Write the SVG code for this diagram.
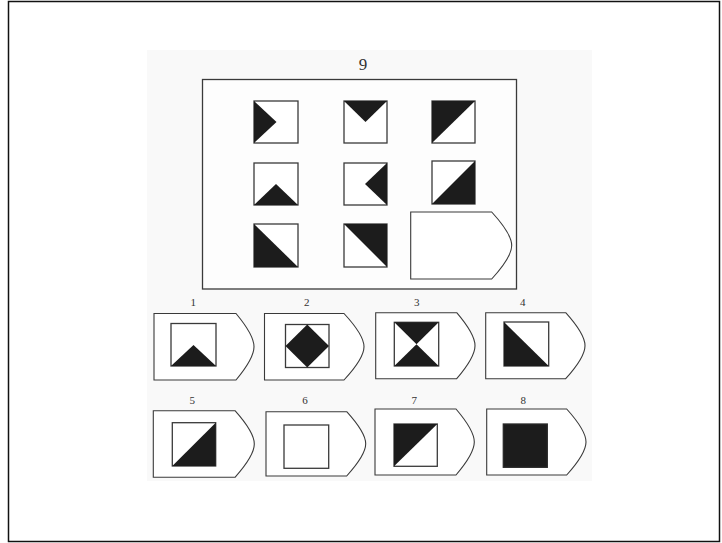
<svg xmlns="http://www.w3.org/2000/svg" width="722" height="543" viewBox="0 0 722 543">
<style>
.pent{fill:#fff;stroke:#3a3a3a;stroke-width:1.1}
.sq{fill:#fff;stroke:#3a3a3a;stroke-width:1.3}
.blk{fill:#1c1c1c;stroke:none}
.sqb{fill:#1c1c1c;stroke:#2a2a2a;stroke-width:1.3}
.lbl{font-family:"Liberation Serif","DejaVu Serif",serif;fill:#333;text-anchor:middle}
</style>
<rect x="0" y="0" width="722" height="543" fill="#fff"/>
<rect x="8.5" y="1.5" width="711" height="540" fill="#fff" stroke="#111" stroke-width="1.5"/>
<rect x="147" y="50" width="445" height="431" fill="#f9f9f9"/>
<text class="lbl" x="363" y="70" font-size="17">9</text>
<g id="matrix">
<rect x="202.5" y="79.5" width="314" height="209.5" fill="#fdfdfd" stroke="#3a3a3a" stroke-width="1.3"/>
<g id="m11"><rect class="sq" x="254" y="101" width="44" height="42"/><polygon class="blk" points="254,101 276.5,122 254,143"/></g>
<g id="m12"><rect class="sq" x="344" y="101" width="43" height="42"/><polygon class="blk" points="344,101 387,101 365.5,122"/></g>
<g id="m13"><rect class="sq" x="432" y="101" width="43" height="42"/><polygon class="blk" points="432,101 475,101 432,143"/></g>
<g id="m21"><rect class="sq" x="254" y="163" width="44" height="42"/><polygon class="blk" points="254,205 298,205 276,184"/></g>
<g id="m22"><rect class="sq" x="344" y="163" width="43" height="42"/><polygon class="blk" points="387,163 387,205 365,184"/></g>
<g id="m23"><rect class="sq" x="432" y="161" width="43" height="43"/><polygon class="blk" points="475,161 475,204 432,204"/></g>
<g id="m31"><rect class="sq" x="254" y="224" width="44" height="43"/><polygon class="blk" points="254,224 298,267 254,267"/></g>
<g id="m32"><rect class="sq" x="344" y="224" width="43" height="43"/><polygon class="blk" points="344,224 387,224 387,267"/></g>
<g id="m33"><path class="pent" d="M410.7,212 H491.7 Q511.7,233.8 511.7,245.5 Q511.7,257.2 491.7,279 H410.7 Z"/></g>
</g>
<g id="opt1"><text class="lbl" x="193.3" y="306" font-size="11">1</text>
<path class="pent" d="M154,313.5 H236 Q254,335.1 254,346.75 Q254,358.4 236,380 H154 Z"/>
<rect class="sq" x="171" y="323.5" width="45" height="42.5"/><polygon class="blk" points="171,366 216,366 193.5,345"/></g>
<g id="opt2"><text class="lbl" x="306.7" y="306" font-size="11">2</text>
<path class="pent" d="M264.5,313.5 H344 Q364,335.1 364,346.75 Q364,358.4 344,380 H264.5 Z"/>
<rect class="sq" x="285.5" y="324.5" width="43.5" height="43"/><polygon class="blk" points="307.25,324.5 329,346 307.25,367.5 285.5,346"/></g>
<g id="opt3"><text class="lbl" x="416.7" y="306" font-size="11">3</text>
<path class="pent" d="M375.7,312.7 H456.7 Q475,334.15 475,345.7 Q475,357.25 456.7,378.7 H375.7 Z"/>
<rect class="sq" x="394.3" y="322.3" width="44.4" height="43.7"/><polygon class="blk" points="394.3,322.3 438.7,322.3 416.5,344.2"/><polygon class="blk" points="394.3,366 438.7,366 416.5,344.2"/></g>
<g id="opt4"><text class="lbl" x="522.7" y="306" font-size="11">4</text>
<path class="pent" d="M485.7,312.7 H565.7 Q585,334.15 585,345.7 Q585,357.25 565.7,378.7 H485.7 Z"/>
<rect class="sq" x="504" y="322" width="44.7" height="44"/><polygon class="blk" points="504,322 548.7,366 504,366"/></g>
<g id="opt5"><text class="lbl" x="192.3" y="404" font-size="11">5</text>
<path class="pent" d="M153.3,410.7 H235 Q254.3,432.35 254.3,444 Q254.3,455.65 235,477.3 H153.3 Z"/>
<rect class="sq" x="172.3" y="422.7" width="43.4" height="43.3"/><polygon class="blk" points="215.7,422.7 215.7,466 172.3,466"/></g>
<g id="opt6"><text class="lbl" x="305" y="404" font-size="11">6</text>
<path class="pent" d="M266,411.7 H346.7 Q365.7,432.6 365.7,443.85 Q365.7,455.1 346.7,476 H266 Z"/>
<rect class="sq" x="284" y="425" width="44.7" height="43.3"/></g>
<g id="opt7"><text class="lbl" x="414.3" y="404" font-size="11">7</text>
<path class="pent" d="M375,409 H456 Q474.3,430.45 474.3,442 Q474.3,453.55 456,475 H375 Z"/>
<rect class="sq" x="394" y="424" width="43.3" height="42.3"/><polygon class="blk" points="394,424 437.3,424 394,466.3"/></g>
<g id="opt8"><text class="lbl" x="523.3" y="404" font-size="11">8</text>
<path class="pent" d="M486.7,409 H566.7 Q586,430.45 586,442 Q586,453.55 566.7,475 H486.7 Z"/>
<rect class="sqb" x="503.3" y="424" width="44" height="43.3"/></g>
<g id="connectors"></g>
</svg>
